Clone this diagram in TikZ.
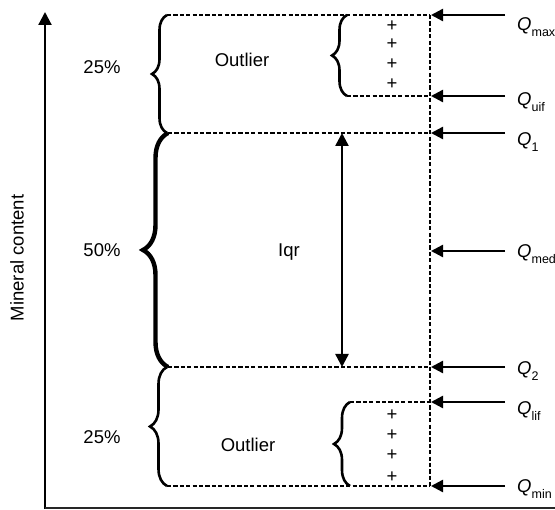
\documentclass[tikz,border=0pt]{standalone}
\usepackage{fontspec}
\setmainfont{Liberation Sans}
\usetikzlibrary{arrows.meta,decorations.pathreplacing}
\newcommand\qlab[1]{\textit{Q}\raisebox{-6pt}{\fontsize{12.5}{14}\selectfont #1}}
\begin{document}
\begin{tikzpicture}[x=1pt,y=1pt,
  every node/.style={inner sep=0pt,font=\fontsize{18.5}{21}\selectfont},
  dashln/.style={line width=2.2pt,dash pattern=on 4.2pt off 2.2pt},
  ptr/.style={line width=2.4pt,-{Triangle[length=12pt,width=12pt]}},
  brc/.style={line width=2.6pt,decorate,decoration={brace,amplitude=#1}},
  qlbl/.style={anchor=base west},
]
\useasboundingbox (0,0) rectangle (555,-510);
% axes
\coordinate (O) at (45,-508);
\coordinate (Ytop) at (45,-12);
\coordinate (Xend) at (555,-508);
\draw[line width=2.2pt,-{Triangle[length=13pt,width=13pt]}] (45,-509) -- (Ytop);
\draw[line width=2.2pt,black!85] (O) -- (Xend);
\node[rotate=90] (ylab) at (17,-258) {Mineral content};
% levels
\foreach \n/\y in {max/15,uif/96,one/133,med/251,two/367,lif/402,min/486}{
  \coordinate (V\n) at (431,-\y);
  \coordinate (A\n) at (505,-\y);
  \draw[ptr] (A\n) -- (V\n);
}
% dashed lines
\coordinate (Lmax) at (167,-15);
\coordinate (Luif) at (347,-96);
\coordinate (Lone) at (168,-133);
\coordinate (Ltwo) at (168,-367);
\coordinate (Llif) at (350,-402);
\coordinate (Lmin) at (167,-486);
\coordinate (Smax) at (347,-15);
\coordinate (Smin) at (350,-486);
\coordinate (Dtop) at (430,-15);
\coordinate (Dbot) at (430,-486);
\draw[dashln] (Dtop) -- (Dbot);
\draw[dashln] (Lmax) -- (Dtop);
\draw[dashln] (Luif) -- (430,-96);
\draw[dashln] (Lone) -- (430,-133);
\draw[dashln] (Ltwo) -- (430,-367);
\draw[dashln] (Llif) -- (430,-402);
\draw[dashln] (Lmin) -- (Dbot);
% braces
\draw[brc=15] (167,-133) -- (Lmax);
\draw[brc=25,line width=4.4pt] (Ltwo) -- (Lone);
\draw[brc=17] (Lmin) -- (167,-367);
\draw[brc=15] (Luif) -- (Smax);
\draw[brc=16] (Smin) -- (Llif);
% iqr arrow
\coordinate (Itop) at (342,-133);
\coordinate (Ibot) at (342,-367);
\draw[line width=2.4pt,{Triangle[length=13pt,width=13pt]}-{Triangle[length=13pt,width=13pt]}] (Itop) -- (Ibot);
% texts
\node (p1) at (102,-67) {25\%};
\node (p2) at (102,-250) {50\%};
\node (p3) at (102,-437) {25\%};
\node (o1) at (242,-60) {Outlier};
\node (o2) at (248,-445) {Outlier};
\node (iqr) at (289,-252) {Iqr};
\foreach \i/\y in {a/26,b/44,c/64,d/84,e/415,f/435,g/455,h/477}{
  \node (plus\i) at (392,-\y) {+};
}
% Q labels
\node[qlbl] (qmax) at (517,-31) {\qlab{max}};
\node[qlbl] (quif) at (517,-106) {\qlab{uif}};
\node[qlbl] (qone) at (517,-146) {\qlab{1}};
\node[qlbl] (qmed) at (517,-258) {\qlab{med}};
\node[qlbl] (qtwo) at (517,-375) {\qlab{2}};
\node[qlbl] (qlif) at (517,-415) {\qlab{lif}};
\node[qlbl] (qmin) at (517,-493) {\qlab{min}};
\end{tikzpicture}
\end{document}
